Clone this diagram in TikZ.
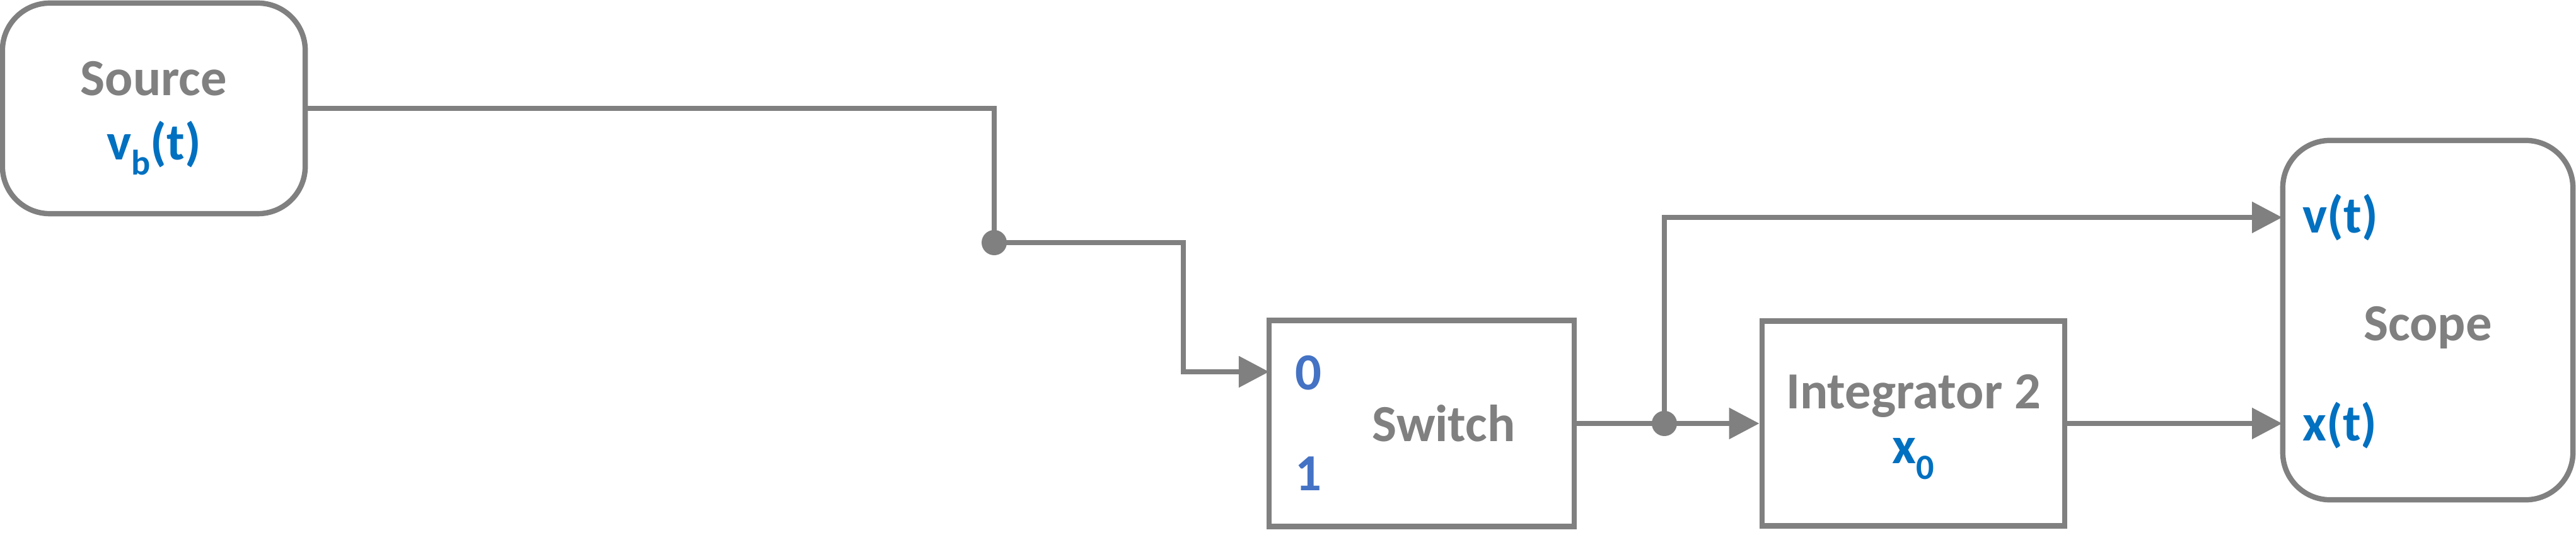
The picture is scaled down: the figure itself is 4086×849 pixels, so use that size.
\documentclass[tikz,border=0pt]{standalone}
\usepackage{fontspec}
\setmainfont{Carlito}
\usetikzlibrary{arrows.meta}
\definecolor{g}{HTML}{808080}
\definecolor{bl}{HTML}{0070C0}
\definecolor{nb}{HTML}{4472C4}
\newcommand{\sbs}[1]{\raisebox{-0.3em}{\fontsize{16}{20}\selectfont #1}}
\begin{document}
\begin{tikzpicture}[x=0.01cm,y=-0.01cm,
  blk/.style={draw=g,line width=2.4pt,fill=white},
  rblk/.style={blk,rounded corners=0.75cm},
  txt/.style={text=g,font=\fontsize{23.5}{28}\selectfont\bfseries},
  btxt/.style={text=bl,font=\fontsize{23.5}{28}\selectfont\bfseries},
  ntxt/.style={text=nb,font=\fontsize{23.5}{28}\selectfont\bfseries},
  wire/.style={draw=g,line width=2.4pt},
  arr/.style={wire,-{Triangle[length=0.48cm,width=0.48cm]}},
  dot/.style={circle,fill=g,inner sep=0pt,minimum size=0.4cm}]
\useasboundingbox (0,0) rectangle (4086,849);
\node[rblk,minimum width=4.8cm,minimum height=3.34cm] (src) at (244,172) {};
\node[txt] (srcl) at (244,125) {Source};
\node[btxt] (srcv) at (244,235) {v\sbs{b}(t)};
\node[blk,minimum width=4.84cm,minimum height=3.27cm] (sw) at (2255,672) {};
\node[txt] (swl) at (2290,672) {Switch};
\node[ntxt] (s0) at (2075,592) {0};
\node[ntxt] (s1) at (2075,752) {1};
\node[blk,minimum width=4.8cm,minimum height=3.25cm] (int) at (3035,672) {};
\node[txt] (intl) at (3035,628) {Integrator 2};
\node[btxt] (intx) at (3035,728) {x\sbs{0}};
\node[rblk,minimum width=4.6cm,minimum height=5.7cm] (sc) at (3851,508) {};
\node[txt] (scl) at (3851,520) {Scope};
\node[btxt,anchor=west] (v) at (3640,345) {v(t)};
\node[btxt,anchor=west] (xt) at (3640,675) {x(t)};
\node[dot] (d1) at (1577,385) {};
\node[dot] (d2) at (2640,672) {};
\coordinate (scv) at (3620,345);
\coordinate (scx) at (3620,672);
\coordinate (swin) at (2013,590);
\draw[wire] (src.east |- 0,172) -| (d1.center);
\draw[arr] (d1.center) -| (1877,590) -- (swin);
\draw[wire] (sw.east) -- (d2.center);
\draw[arr] (d2.center) -- (int.west);
\draw[arr] (d2.center) |- (scv);
\draw[arr] (int.east) -- (scx);
\end{tikzpicture}
\end{document}
